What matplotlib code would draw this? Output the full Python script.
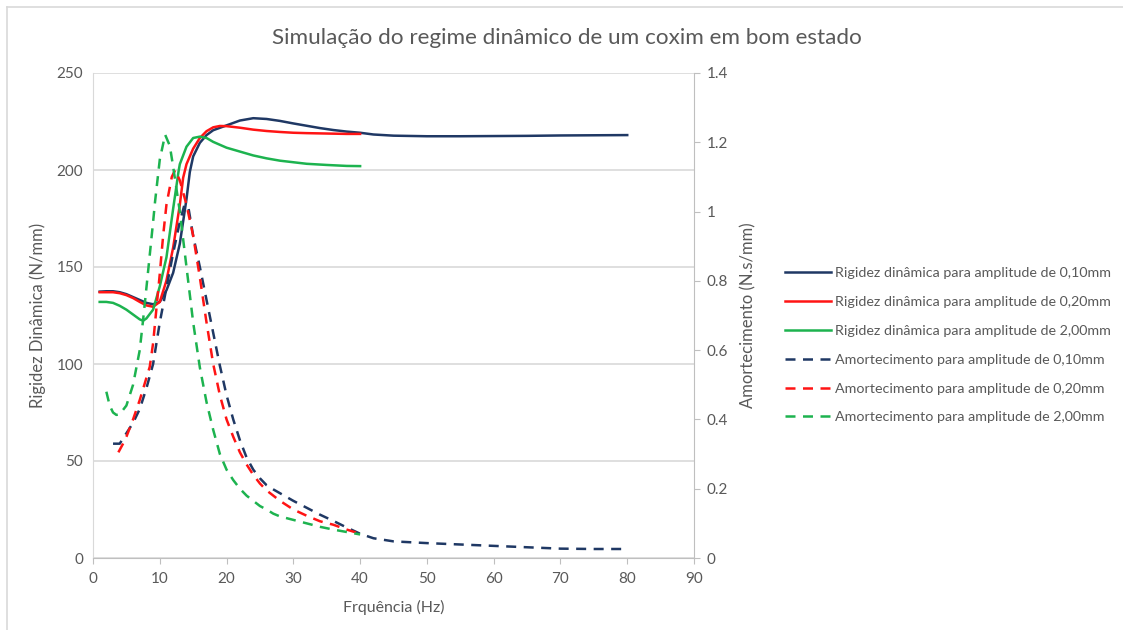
import matplotlib
matplotlib.use("Agg")
import matplotlib.pyplot as plt
from matplotlib.ticker import FuncFormatter
from matplotlib.lines import Line2D

# fonte parecida com a do Excel (Calibri nao existe aqui)
plt.rcParams['font.family'] = ['Lato', 'DejaVu Sans']

# --- dados ---
# rigidez dinamica (N/mm), eixo da esquerda
freq_rig_010 = [1, 2, 3, 4, 5, 6, 7, 8, 9, 10, 11, 12, 13, 14, 14.5, 15, 16, 17, 18,
                20, 22, 24, 26, 28, 30, 32, 34, 36, 38, 40, 42, 45, 50, 55, 60, 65, 70, 75, 80]
rig_010 = [137.3, 137.5, 137.5, 137, 136, 134.5, 133, 131.5, 130.8, 132, 138, 147, 162, 185, 199, 207,
           214, 218, 220.5, 223, 225.5, 226.7, 226.3, 225.3, 224, 222.8, 221.6, 220.6, 219.8, 219.2,
           218.3, 217.7, 217.4, 217.4, 217.5, 217.6, 217.8, 217.9, 218]

freq_rig_020 = [1, 2, 3, 4, 5, 6, 7, 8, 9, 10, 11, 12, 13, 13.5, 14, 15, 16, 17, 18, 19, 20,
                22, 24, 26, 28, 30, 32, 35, 38, 40]
rig_020 = [137, 137, 137, 136.5, 135.5, 134, 132, 130.2, 129.5, 132, 143, 160, 182, 196, 203, 211,
           216.5, 220, 222, 222.7, 222.6, 221.8, 220.8, 220.1, 219.6, 219.2, 219, 218.8, 218.6, 218.6]

freq_rig_200 = [1, 2, 3, 4, 5, 6, 7, 7.5, 8, 9, 10, 11, 12, 12.8, 13, 14, 15, 16, 17, 18,
                20, 22, 24, 26, 28, 30, 32, 35, 38, 40]
rig_200 = [132, 132, 131.5, 130, 128, 125.5, 123, 122.3, 123.5, 128, 140, 155, 180, 199, 203, 212,
           216.5, 217.2, 216.5, 214.5, 211.5, 209.5, 207.5, 206, 204.8, 204, 203.2, 202.6, 202.1, 202]

# amortecimento (N.s/mm), eixo da direita
freq_amo_010 = [3, 4, 5, 6, 7, 8, 9, 10, 11, 12, 13, 13.7, 14.3, 15, 16, 17, 18, 19, 20, 21, 22, 23,
                24, 25, 26, 27, 28, 30, 32, 34, 36, 38, 40, 42, 45, 50, 55, 60, 65, 70, 75, 80]
amo_010 = [0.33, 0.33, 0.36, 0.39, 0.43, 0.49, 0.56, 0.68, 0.78, 0.88, 0.97, 1.02, 1.01, 0.93, 0.84,
           0.745, 0.65, 0.555, 0.47, 0.4, 0.34, 0.29, 0.255, 0.23, 0.21, 0.198, 0.187, 0.165, 0.145,
           0.125, 0.107, 0.088, 0.07, 0.057, 0.048, 0.043, 0.039, 0.035, 0.031, 0.027, 0.026, 0.026]

freq_amo_020 = [3.8, 4.5, 5, 6, 7, 8, 8.5, 9, 10, 10.5, 11, 11.8, 12.3, 13, 14, 15, 16, 17, 18, 19,
                20, 21, 22, 23, 24, 25, 26, 27, 28, 30, 32, 34, 36, 38, 40]
amo_020 = [0.305, 0.33, 0.35, 0.4, 0.456, 0.52, 0.552, 0.62, 0.82, 0.93, 1.02, 1.1, 1.12, 1.09, 1.02,
           0.93, 0.81, 0.68, 0.56, 0.47, 0.4, 0.35, 0.305, 0.27, 0.24, 0.215, 0.195, 0.18, 0.165,
           0.14, 0.122, 0.106, 0.096, 0.082, 0.07]

freq_amo_200 = [2, 2.5, 3, 3.5, 4, 5, 6, 7, 7.5, 8, 9, 9.3, 10, 10.8, 11.5, 12, 13, 14, 15, 16, 17,
                18, 19, 20, 21, 22, 23, 24, 25, 26, 27, 28, 30, 32, 34, 36, 38, 40]
amo_200 = [0.48, 0.44, 0.42, 0.413, 0.415, 0.44, 0.5, 0.6, 0.687, 0.78, 0.97, 1.03, 1.15, 1.222, 1.19,
           1.13, 1.0, 0.84, 0.68, 0.55, 0.45, 0.37, 0.3, 0.255, 0.225, 0.2, 0.18, 0.165, 0.15, 0.14,
           0.128, 0.12, 0.11, 0.1, 0.09, 0.082, 0.075, 0.068]

x_ticks = [0, 10, 20, 30, 40, 50, 60, 70, 80, 90]
y_ticks_rig = [0, 50, 100, 150, 200, 250]
y_ticks_amo = [0, 0.2, 0.4, 0.6, 0.8, 1.0, 1.2, 1.4]

azul = '#1f3864'
vermelho = '#ff1414'
verde = '#1db34f'
cinza_txt = '#595959'
cinza_lin = '#d9d9d9'

fig = plt.figure(figsize=(11.23, 6.3), dpi=100)
ax = fig.add_axes([93 / 1123, 1 - 558 / 630, (694 - 93) / 1123, (558 - 73) / 630])
ax2 = ax.twinx()

lw = 1.8
ax.plot(freq_rig_010, rig_010, color=azul, lw=lw)
ax.plot(freq_rig_020, rig_020, color=vermelho, lw=lw)
ax.plot(freq_rig_200, rig_200, color=verde, lw=lw)
ax2.plot(freq_amo_010, amo_010, color=azul, lw=lw, dashes=(4, 3))
ax2.plot(freq_amo_020, amo_020, color=vermelho, lw=lw, dashes=(4, 3))
ax2.plot(freq_amo_200, amo_200, color=verde, lw=lw, dashes=(4, 3))

# eixos
ax.set_xlim(0, 90)
ax.set_ylim(0, 250)
ax2.set_ylim(0, 1.4)
ax.set_xticks(x_ticks)
ax.set_yticks(y_ticks_rig)
ax2.set_yticks(y_ticks_amo)
ax2.yaxis.set_major_formatter(FuncFormatter(lambda v, p: '%g' % v))

ax.grid(axis='y', color=cinza_lin, lw=1.2)
ax.set_axisbelow(True)
for a in (ax, ax2):
    for s in a.spines.values():
        s.set_visible(False)
ax.spines['left'].set_visible(True)
ax.spines['left'].set_color(cinza_lin)
ax.spines['bottom'].set_visible(True)
ax.spines['bottom'].set_color('#bfbfbf')
ax2.spines['right'].set_visible(True)
ax2.spines['right'].set_color('#bfbfbf')

ax.tick_params(axis='y', length=0, labelsize=11, labelcolor=cinza_txt, pad=7)
ax.tick_params(axis='x', length=4, color='#bfbfbf', labelsize=11, labelcolor=cinza_txt, pad=6)
ax2.tick_params(axis='y', length=4, color='#bfbfbf', labelsize=11, labelcolor=cinza_txt, pad=5)

ax.set_xlabel('Frquência (Hz)', fontsize=11.5, color=cinza_txt, labelpad=10)
ax.set_ylabel('Rigidez Dinâmica (N/mm)', fontsize=12, color=cinza_txt, labelpad=8)
ax2.set_ylabel('Amortecimento (N.s/mm)', fontsize=12, color=cinza_txt, labelpad=9)

fig.text(567 / 1123, 1 - 38 / 630, 'Simulação do regime dinâmico de um coxim em bom estado',
         ha='center', va='center', fontsize=16.2, color=cinza_txt)

# legenda
nomes = ['Rigidez dinâmica para amplitude de 0,10mm',
         'Rigidez dinâmica para amplitude de 0,20mm',
         'Rigidez dinâmica para amplitude de 2,00mm',
         'Amortecimento para amplitude de 0,10mm',
         'Amortecimento para amplitude de 0,20mm',
         'Amortecimento para amplitude de 2,00mm']
cores = [azul, vermelho, verde, azul, vermelho, verde]
handles = []
for i, c in enumerate(cores):
    if i < 3:
        handles.append(Line2D([], [], color=c, lw=lw))
    else:
        handles.append(Line2D([], [], color=c, lw=lw, dashes=(4, 3)))
leg = fig.legend(handles, nomes, loc='upper left', bbox_to_anchor=(785 / 1123, 1 - 267 / 630),
                 frameon=False, fontsize=10.3, handlelength=3.2, handletextpad=0.3,
                 labelspacing=1.18, borderpad=0, borderaxespad=0)
for t in leg.get_texts():
    t.set_color(cinza_txt)

# moldura do grafico (so cima e esquerda aparecem)
fig.add_artist(Line2D([7 / 1123, 1], [1 - 7 / 630, 1 - 7 / 630], color=cinza_lin, lw=1.2))
fig.add_artist(Line2D([7 / 1123, 7 / 1123], [0, 1 - 7 / 630], color=cinza_lin, lw=1.2))

fig.savefig('out.png', dpi=100)
